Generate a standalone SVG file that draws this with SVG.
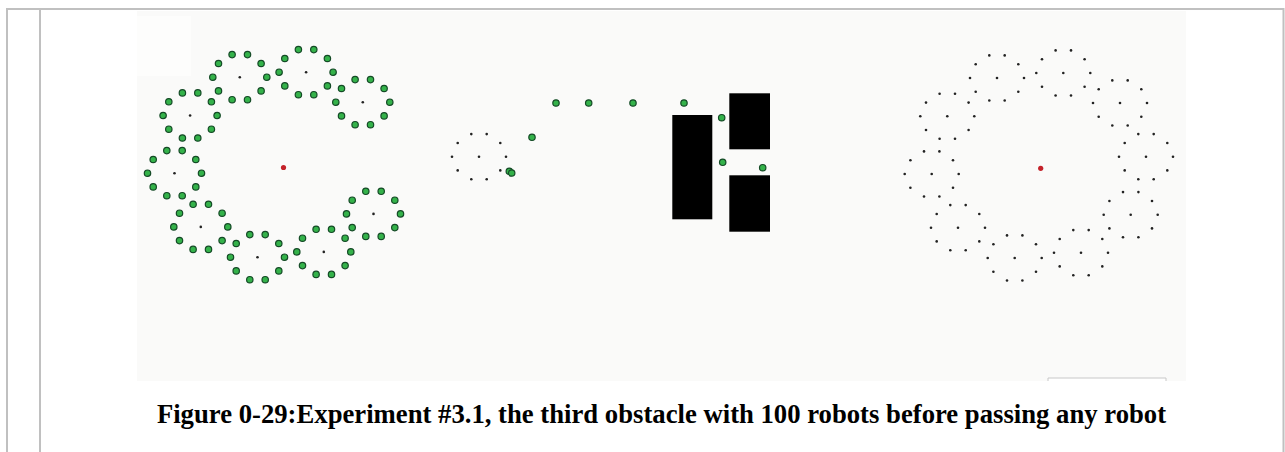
<svg xmlns="http://www.w3.org/2000/svg" xmlns:xlink="http://www.w3.org/1999/xlink" width="1285" height="452" viewBox="0 0 1285 452">
<style>
.frame{stroke:#c0c0c0;stroke-width:2;fill:none}
.bot{fill:#34b24a;stroke:#144a26;stroke-width:1.2}
.pt{fill:#222}
.goal{fill:#c4222a}
.obs{fill:#000}
.cap{font-family:"Liberation Serif","Times New Roman",serif;font-weight:bold;font-size:26.7px;fill:#000}
</style>
<defs>
<g id="ring-dots">
<circle class="pt" cx="-7.7" cy="-22.6" r="1.3"/><circle class="pt" cx="7.7" cy="-22.6" r="1.3"/>
<circle class="pt" cx="21.3" cy="-13.7" r="1.3"/><circle class="pt" cx="27" cy="0" r="1.3"/>
<circle class="pt" cx="21.3" cy="13.7" r="1.3"/><circle class="pt" cx="7.7" cy="22.5" r="1.3"/>
<circle class="pt" cx="-7.7" cy="22.5" r="1.3"/><circle class="pt" cx="-21.3" cy="13.7" r="1.3"/>
<circle class="pt" cx="-27" cy="0" r="1.3"/><circle class="pt" cx="-21.3" cy="-13.7" r="1.3"/>
<circle class="pt" cx="0" cy="0" r="1.3"/>
</g>
<g id="ring-bots">
<circle class="bot" cx="-7.7" cy="-22.6" r="3.2"/><circle class="bot" cx="7.7" cy="-22.6" r="3.2"/>
<circle class="bot" cx="21.3" cy="-13.7" r="3.2"/><circle class="bot" cx="27" cy="0" r="3.2"/>
<circle class="bot" cx="21.3" cy="13.7" r="3.2"/><circle class="bot" cx="7.7" cy="22.5" r="3.2"/>
<circle class="bot" cx="-7.7" cy="22.5" r="3.2"/><circle class="bot" cx="-21.3" cy="13.7" r="3.2"/>
<circle class="bot" cx="-27" cy="0" r="3.2"/><circle class="bot" cx="-21.3" cy="-13.7" r="3.2"/>
<circle class="pt" cx="0" cy="0" r="1.3"/>
</g>
</defs>
<rect width="1285" height="452" fill="#fff"/>
<g id="frame">
<path class="frame" d="M7,452 V9 H1283.5 V452"/>
<line class="frame" x1="40" y1="9" x2="40" y2="452"/>
</g>
<g id="picture">
<rect x="137" y="11" width="1049" height="370" fill="#fafaf9"/>
<rect x="137" y="16" width="54" height="60" fill="#fff" opacity="0.5"/>
<path d="M1048,381 V378 H1166 V381" fill="#fff" stroke="#c8c8c8" stroke-width="1"/>
</g>
<g id="start-formation">
<use xlink:href="#ring-bots" x="306.1" y="72.2"/>
<use xlink:href="#ring-bots" x="239.8" y="77.2"/>
<use xlink:href="#ring-bots" x="190.1" y="115.5"/>
<use xlink:href="#ring-bots" x="174.5" y="173.2"/>
<use xlink:href="#ring-bots" x="200.8" y="226.9"/>
<use xlink:href="#ring-bots" x="257.5" y="257.2"/>
<use xlink:href="#ring-bots" x="323.8" y="251.9"/>
<use xlink:href="#ring-bots" x="373.5" y="213.9"/>
<use xlink:href="#ring-bots" x="362.8" y="102.2"/>
<circle class="goal" cx="283.5" cy="167.5" r="2.6"/>
</g>
<g id="moving-group">
<use xlink:href="#ring-dots" x="479" y="156.7"/>
<circle class="bot" cx="509.3" cy="171.3" r="3.2"/>
<circle class="bot" cx="511.7" cy="173" r="3.2"/>
<circle class="bot" cx="532" cy="137.3" r="3.2"/>
<circle class="bot" cx="556" cy="103" r="3.2"/>
<circle class="bot" cx="588.7" cy="103" r="3.2"/>
<circle class="bot" cx="633" cy="103" r="3.2"/>
<circle class="bot" cx="684" cy="103" r="3.2"/>
<circle class="bot" cx="721.7" cy="117.7" r="3.2"/>
<circle class="bot" cx="722.7" cy="162.3" r="3.2"/>
<circle class="bot" cx="762.7" cy="167.7" r="3.2"/>
</g>
<g id="obstacles">
<rect class="obs" x="672.3" y="115" width="40" height="104.3"/>
<rect class="obs" x="729.3" y="93.3" width="40.7" height="56"/>
<rect class="obs" x="729.3" y="175.3" width="40.7" height="56.4"/>
</g>
<g id="target-formation">
<use xlink:href="#ring-dots" x="1063.3" y="73"/>
<use xlink:href="#ring-dots" x="997" y="78"/>
<use xlink:href="#ring-dots" x="947.3" y="116.3"/>
<use xlink:href="#ring-dots" x="931.7" y="174"/>
<use xlink:href="#ring-dots" x="958" y="227.7"/>
<use xlink:href="#ring-dots" x="1014.7" y="258"/>
<use xlink:href="#ring-dots" x="1081" y="252.7"/>
<use xlink:href="#ring-dots" x="1130.7" y="214.7"/>
<use xlink:href="#ring-dots" x="1146" y="156.7"/>
<use xlink:href="#ring-dots" x="1120" y="103"/>
<circle class="goal" cx="1040.7" cy="168.3" r="2.6"/>
</g>
<g id="caption">
<text class="cap" x="661.5" y="422.5" text-anchor="middle">Figure 0-29:Experiment #3.1, the third obstacle with 100 robots before passing any robot</text>
</g>
</svg>
